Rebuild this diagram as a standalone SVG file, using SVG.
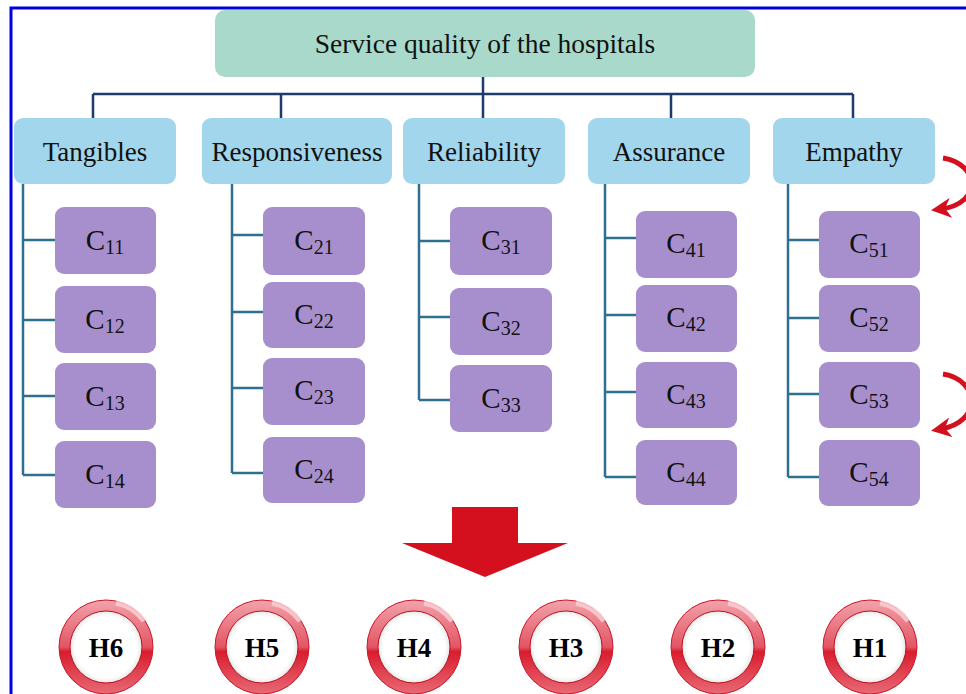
<svg xmlns="http://www.w3.org/2000/svg" width="966" height="694" viewBox="0 0 966 694">
<style>
.title{fill:#a8d9ca}
.cat{fill:#a2d6ec}
.c{fill:#a78fce}
.t{font-family:"Liberation Serif","Times New Roman",serif;fill:#111;text-anchor:middle}
.tt{font-size:27.5px}
.ct{font-size:27px}
.cl{font-size:29px}
.sub{font-size:20px}
.h{font-family:"Liberation Serif","Times New Roman",serif;font-weight:bold;font-size:27px;fill:#000;text-anchor:middle}
.bus{stroke:#1d3b6b;stroke-width:2.5;fill:none}
.br{stroke:#2f6f90;stroke-width:2.5;fill:none}
.curve{stroke:#d3101e;stroke-width:5;fill:none}
</style>
<defs>
<linearGradient id="ring" x1="0" y1="0" x2="0" y2="1">
<stop offset="0" stop-color="#f2a3ab"/>
<stop offset="0.5" stop-color="#e35565"/>
<stop offset="0.55" stop-color="#d91c2e"/>
<stop offset="1" stop-color="#e86a76"/>
</linearGradient>
<radialGradient id="inner" cx="0.5" cy="0.5" r="0.5">
<stop offset="0.85" stop-color="#ffffff"/>
<stop offset="1" stop-color="#e8e8e8"/>
</radialGradient>
<marker id="ah" viewBox="0 0 10 10" refX="5" refY="5" markerWidth="4" markerHeight="4" orient="auto">
<path d="M0,0 L10,5 L0,10 L3,5 Z" fill="#d3101e"/>
</marker>
<g id="hc">
<circle r="47" fill="url(#ring)"/>
<circle r="47" fill="none" stroke="#c81a2a" stroke-width="1"/>
<path d="M 10,-44 A 45 45 0 0 1 38,-26" stroke="#fbd3d7" stroke-width="5" fill="none" opacity="0.8"/>
<circle r="36" fill="url(#inner)" stroke="#b8141f" stroke-width="1"/>
</g>
</defs>
<rect width="966" height="694" fill="#ffffff"/>
<rect x="11" y="8" width="975" height="700" fill="none" stroke="#0000e0" stroke-width="3"/>

<g id="connectors">
<path class="bus" d="M483,77 V94 M93,94 H853 M93,94 V118 M281,94 V118 M483,94 V118 M671,94 V118 M853,94 V118"/>
<path class="br" d="M23,184 V475 M23,240 H55 M23,320 H55 M23,396 H55 M23,475 H55"/>
<path class="br" d="M232,184 V473 M232,235 H263 M232,312 H263 M232,388 H263 M232,473 H263"/>
<path class="br" d="M419,184 V400 M419,241 H450 M419,317 H450 M419,400 H450"/>
<path class="br" d="M605,184 V477 M605,238 H636 M605,315 H636 M605,392 H636 M605,477 H636"/>
<path class="br" d="M788,184 V477 M788,240 H819 M788,318 H819 M788,394 H819 M788,477 H819"/>
<path class="curve" d="M943,158 C 980,164 982,204 941,209" marker-end="url(#ah)"/>
<path class="curve" d="M943,374 C 980,380 982,422 941,429" marker-end="url(#ah)"/>
<path d="M452,507 H518 V543 H568 L485,577 L402,543 H452 Z" fill="#d5101e"/>
</g>

<g id="root">
<rect class="title" x="215" y="10" width="540" height="67" rx="10"/>
<text class="t tt" x="485" y="53">Service quality of the hospitals</text>
</g>

<g id="tangibles"><rect class="cat" x="14" y="118" width="162" height="66" rx="9"/><text class="t ct" x="95" y="161">Tangibles</text></g>
<g id="responsiveness"><rect class="cat" x="202" y="118" width="190" height="66" rx="9"/><text class="t ct" x="297" y="161">Responsiveness</text></g>
<g id="reliability"><rect class="cat" x="403" y="118" width="162" height="66" rx="9"/><text class="t ct" x="484" y="161">Reliability</text></g>
<g id="assurance"><rect class="cat" x="588" y="118" width="162" height="66" rx="9"/><text class="t ct" x="669" y="161">Assurance</text></g>
<g id="empathy"><rect class="cat" x="773" y="118" width="162" height="66" rx="9"/><text class="t ct" x="854" y="161">Empathy</text></g>

<g id="c11"><rect class="c" x="55" y="207" width="101" height="67" rx="9"/><text class="t cl" x="105" y="250">C<tspan class="sub" dy="4">11</tspan></text></g>
<g id="c12"><rect class="c" x="55" y="286" width="101" height="67" rx="9"/><text class="t cl" x="105" y="329">C<tspan class="sub" dy="4">12</tspan></text></g>
<g id="c13"><rect class="c" x="55" y="363" width="101" height="67" rx="9"/><text class="t cl" x="105" y="406">C<tspan class="sub" dy="4">13</tspan></text></g>
<g id="c14"><rect class="c" x="55" y="441" width="101" height="67" rx="9"/><text class="t cl" x="105" y="484">C<tspan class="sub" dy="4">14</tspan></text></g>

<g id="c21"><rect class="c" x="263" y="207" width="102" height="68" rx="9"/><text class="t cl" x="314" y="250">C<tspan class="sub" dy="4">21</tspan></text></g>
<g id="c22"><rect class="c" x="263" y="282" width="102" height="66" rx="9"/><text class="t cl" x="314" y="324">C<tspan class="sub" dy="4">22</tspan></text></g>
<g id="c23"><rect class="c" x="263" y="358" width="102" height="67" rx="9"/><text class="t cl" x="314" y="400">C<tspan class="sub" dy="4">23</tspan></text></g>
<g id="c24"><rect class="c" x="263" y="437" width="102" height="66" rx="9"/><text class="t cl" x="314" y="479">C<tspan class="sub" dy="4">24</tspan></text></g>

<g id="c31"><rect class="c" x="450" y="207" width="102" height="68" rx="9"/><text class="t cl" x="501" y="250">C<tspan class="sub" dy="4">31</tspan></text></g>
<g id="c32"><rect class="c" x="450" y="288" width="102" height="67" rx="9"/><text class="t cl" x="501" y="331">C<tspan class="sub" dy="4">32</tspan></text></g>
<g id="c33"><rect class="c" x="450" y="365" width="102" height="67" rx="9"/><text class="t cl" x="501" y="408">C<tspan class="sub" dy="4">33</tspan></text></g>

<g id="c41"><rect class="c" x="636" y="211" width="101" height="67" rx="9"/><text class="t cl" x="686" y="253">C<tspan class="sub" dy="4">41</tspan></text></g>
<g id="c42"><rect class="c" x="636" y="285" width="101" height="67" rx="9"/><text class="t cl" x="686" y="327">C<tspan class="sub" dy="4">42</tspan></text></g>
<g id="c43"><rect class="c" x="636" y="362" width="101" height="66" rx="9"/><text class="t cl" x="686" y="404">C<tspan class="sub" dy="4">43</tspan></text></g>
<g id="c44"><rect class="c" x="636" y="440" width="101" height="65" rx="9"/><text class="t cl" x="686" y="482">C<tspan class="sub" dy="4">44</tspan></text></g>

<g id="c51"><rect class="c" x="819" y="211" width="101" height="67" rx="9"/><text class="t cl" x="869" y="253">C<tspan class="sub" dy="4">51</tspan></text></g>
<g id="c52"><rect class="c" x="819" y="285" width="101" height="67" rx="9"/><text class="t cl" x="869" y="327">C<tspan class="sub" dy="4">52</tspan></text></g>
<g id="c53"><rect class="c" x="819" y="362" width="101" height="66" rx="9"/><text class="t cl" x="869" y="404">C<tspan class="sub" dy="4">53</tspan></text></g>
<g id="c54"><rect class="c" x="819" y="440" width="101" height="66" rx="9"/><text class="t cl" x="869" y="482">C<tspan class="sub" dy="4">54</tspan></text></g>

<g id="h6"><use href="#hc" x="106" y="647"/><text class="h" x="106" y="657">H6</text></g>
<g id="h5"><use href="#hc" x="262" y="647"/><text class="h" x="262" y="657">H5</text></g>
<g id="h4"><use href="#hc" x="414" y="647"/><text class="h" x="414" y="657">H4</text></g>
<g id="h3"><use href="#hc" x="566" y="647"/><text class="h" x="566" y="657">H3</text></g>
<g id="h2"><use href="#hc" x="718" y="647"/><text class="h" x="718" y="657">H2</text></g>
<g id="h1"><use href="#hc" x="870" y="647"/><text class="h" x="870" y="657">H1</text></g>
</svg>
